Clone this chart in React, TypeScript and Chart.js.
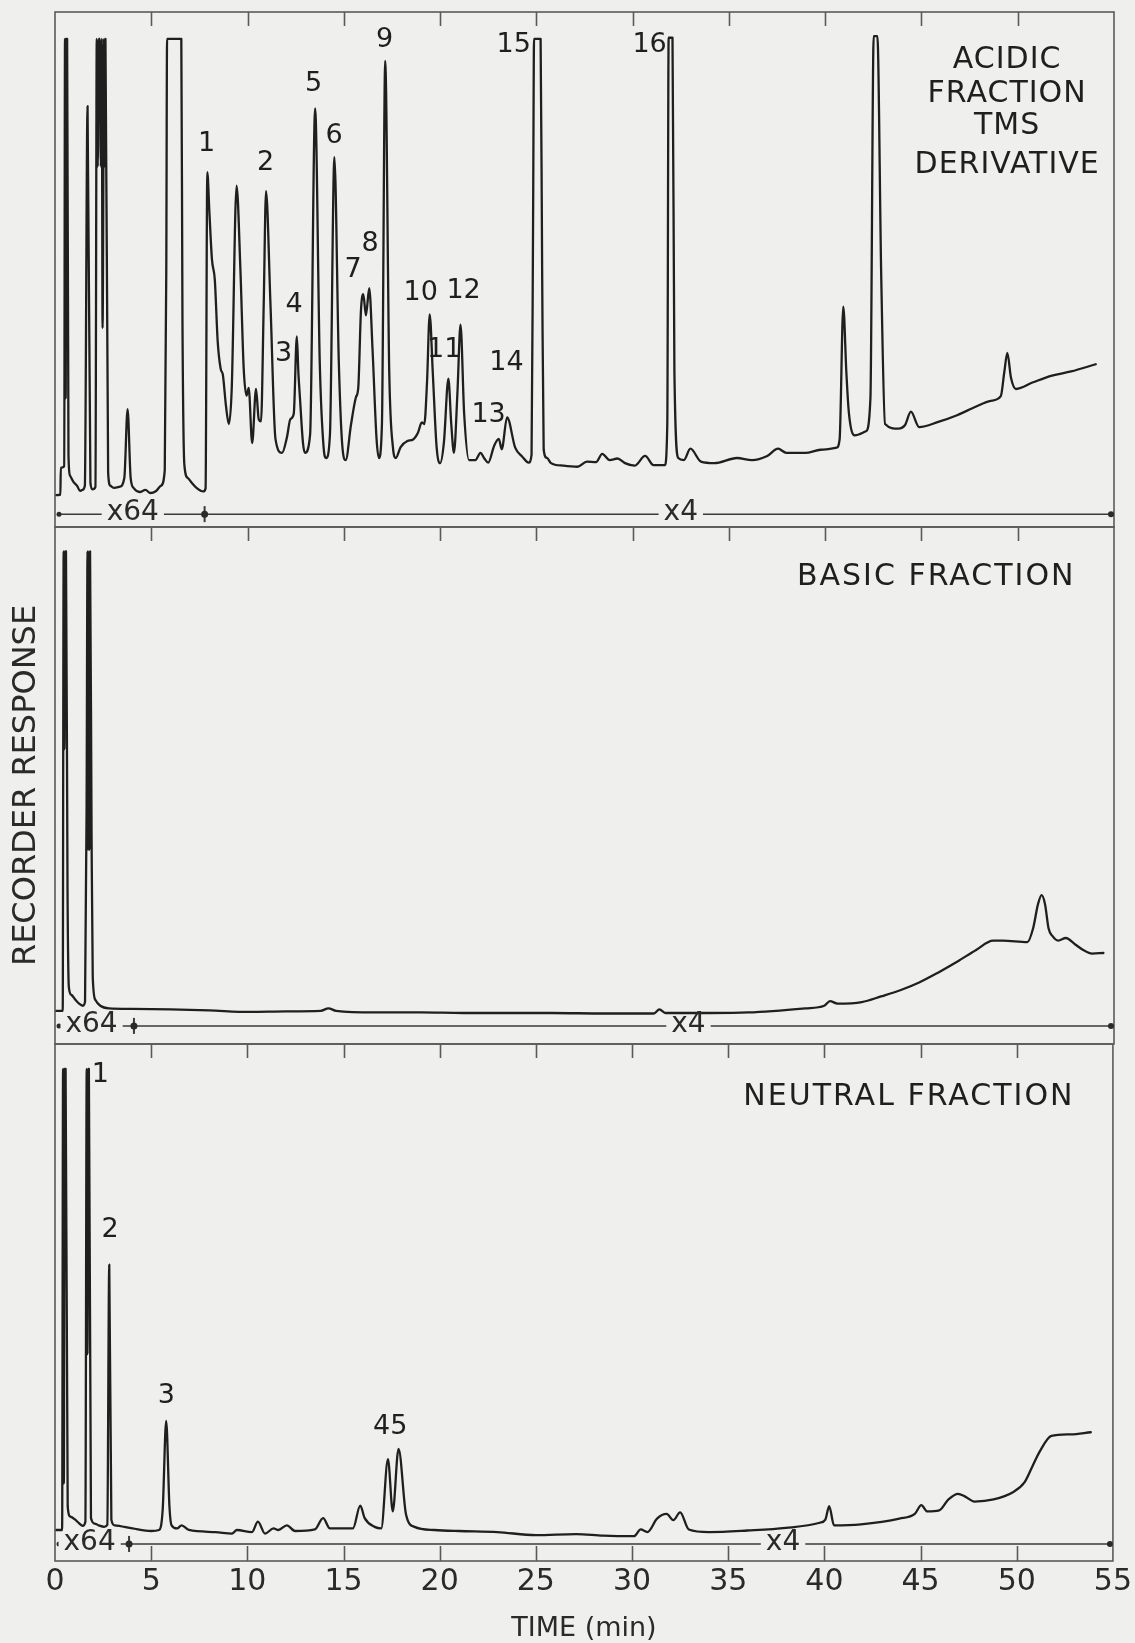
import React, { useEffect, useRef } from "react";
import { Chart, registerables } from "chart.js";

Chart.register(...registerables);

// ---------------- data (time in min, recorder response in % of full scale) ----------------
const TIME_MIN = 0;
const TIME_MAX = 55;
const TIME_STEP = 5;
const INNER_TICKS = [5, 10, 15, 20, 25, 30, 35, 40, 45, 50];
const X_TITLE = "TIME (min)";
const Y_TITLE = "RECORDER RESPONSE";

// Acidic fraction, TMS derivative
const acidicTime = [
  0.05, 0.28, 0.3, 0.48, 0.52, 0.555, 0.585, 0.63, 0.7, 0.78, 0.95, 1.15, 1.3, 1.42, 1.55, 1.69,
  1.84, 1.95, 2.1, 2.17, 2.22, 2.27, 2.33, 2.38, 2.43, 2.47, 2.55, 2.59, 2.62, 2.76, 2.88, 3.05,
  3.35, 3.6, 3.77, 3.93, 4.1, 4.4, 4.7, 4.95, 5.25, 5.5, 5.7, 5.78, 5.82, 6.56, 6.62, 6.72,
  6.9, 7.1, 7.35, 7.7, 7.82, 7.91, 8.02, 8.15, 8.3,
  8.45, 8.6, 8.72, 8.88, 9.03, 9.18, 9.43, 9.63, 9.8, 9.95, 10.06, 10.24, 10.44, 10.58, 10.7,
  10.84, 10.96, 11.19, 11.45, 11.79, 12.05, 12.22, 12.4, 12.56, 12.64, 12.72, 12.88, 12.98,
  13.25, 13.51, 13.75, 13.95, 14.08, 14.28, 14.51, 14.74, 14.94, 15.1, 15.37, 15.63, 15.75,
  15.89, 16.01, 16.15, 16.32, 16.49, 16.7, 16.82, 16.98, 17.15, 17.36, 17.55, 17.7, 17.95,
  18.3, 18.6, 18.85, 19.05, 19.18, 19.32, 19.46, 19.62, 19.82, 20.0, 20.2, 20.43, 20.58,
  20.72, 20.9, 21.06, 21.25, 21.5, 21.83, 22.1, 22.3, 22.5, 22.8, 23.05, 23.2, 23.48, 23.9,
  24.26, 24.6, 24.75, 24.83, 24.88, 25.22, 25.3, 25.38, 25.55, 25.76, 26.4, 27.14, 27.63,
  28.1, 28.42, 28.81, 29.21, 29.6, 30.1, 30.65, 31.09, 31.67, 31.8, 31.87, 32.07, 32.17,
  32.37, 32.66, 33.0, 33.55, 34.24, 35.42, 36.2, 36.99, 37.55, 37.98, 38.97, 39.76, 40.59,
  40.75, 40.94, 41.1, 41.23, 41.53, 42.12, 42.35, 42.52, 42.71, 42.91, 43.11, 43.8, 44.15,
  44.45, 44.88, 45.87, 46.85, 47.84, 48.6, 49.12, 49.3, 49.46, 49.65, 49.91, 50.8, 51.78,
  52.77, 54.05,
];
const acidicSignal = [
  6.2, 6.3, 11.5, 11.8, 94.8, 25, 94.8, 94.8, 14, 10, 8.8, 8.0, 7.0, 7.2, 8.0, 81.7,
  8.5, 7.3, 7.8, 94.8, 70, 94.8, 94.8, 70, 94.8, 38.6, 94.8, 70, 94.8, 10.5, 8.0, 7.6,
  7.8, 9.5, 22.9, 9.5, 7.5, 6.8, 7.2, 6.6, 7.0, 8.0, 11.0, 50, 94.8, 94.8, 40, 12,
  9.5, 8.6, 7.6, 6.9, 7.5, 68.9, 61, 52, 48,
  36, 30.8, 29.5, 23.5, 20.0, 27, 66.3, 49.9, 30.8, 25.5, 27, 16.3, 26.8, 20.9, 20.5,
  43.3, 65.2, 43.3, 17.1, 14.4, 17.5, 20.9, 22, 37.0, 30, 25.2, 16.3, 14.4,
  18, 81.3, 32, 15.5, 13.4, 18, 71.8, 32, 15, 13.0, 19.8, 25.2, 27,
  42, 45.2, 41.1, 46.4, 34.6, 17.1, 13.4, 20, 90.5, 30, 15.5, 13.4, 15.5,
  16.7, 17.0, 18.3, 20.3, 20.0, 28, 41.3, 30, 15.5, 12.4, 16.5, 28.8, 20,
  14.4, 26, 39.3, 22, 13.0, 13.0, 14.4, 13.3, 12.5, 15.7, 17.1, 15.1, 21.3, 15.4,
  13.7, 12.5, 14, 60, 94.8, 94.8, 50, 15, 13.4, 12.4, 11.9, 11.7, 12.7,
  12.6, 14.2, 13.0, 13.3, 12.4, 11.9, 13.8, 12.0, 12.0, 20, 95.0, 95.0, 30,
  13.4, 13.0, 15.2, 12.7, 12.4, 13.4, 13.0, 13.8, 15.2, 14.4, 14.4, 15.0, 15.4,
  17, 42.8, 30, 22.2, 17.8, 18.6, 25, 95.3, 95.3, 48.9, 20.0, 19.1, 19.8,
  22.4, 19.4, 20.4, 21.7, 23.4, 24.5, 25.4, 30, 33.8, 29, 26.8, 28.1, 29.4,
  30.2, 31.6,
];

// Basic fraction
const basicTime = [
  0.05, 0.4, 0.45, 0.49, 0.52, 0.57, 0.65, 0.72, 0.85, 1.05, 1.25, 1.45, 1.56, 1.64, 1.69,
  1.72, 1.76, 1.79, 1.82, 1.9, 1.96, 2.1, 2.35, 2.8, 4.0, 6.0, 8.0, 10.1, 12.0, 13.8, 14.2,
  14.6, 16.6, 19.0, 21.2, 23.5, 25.8, 28.5, 31.1, 31.39, 31.7, 34.0, 36.0, 38.97, 39.95,
  40.25, 40.64, 41.9, 42.9, 43.9, 44.88, 45.86, 46.85, 47.84, 48.72, 49.22, 50.5, 50.8,
  51.05, 51.24, 51.42, 51.6, 51.8, 52.1, 52.5, 52.97, 53.4, 53.86, 54.45,
];
const basicSignal = [
  6.4, 6.4, 95.3, 57, 95.3, 95.3, 30, 11, 9.5, 8.6, 7.8, 7.4, 8.2, 45, 95.3,
  37.5, 95.3, 37.5, 95.3, 40, 13, 8.5, 7.4, 6.9, 6.8, 6.7, 6.5, 6.2, 6.3, 6.4, 6.9,
  6.4, 6.1, 6.1, 6.0, 6.0, 6.0, 5.9, 5.9, 6.7, 6.0, 6.0, 6.1, 6.9, 7.4,
  8.3, 7.8, 8.1, 9.2, 10.4, 11.9, 13.8, 15.9, 18.2, 20.0, 20.0, 19.7, 22.4,
  27, 28.8, 27, 22.4, 20.9, 20.0, 20.5, 19.3, 18.2, 17.5, 17.6,
];

// Neutral fraction
const neutralTime = [
  0.03, 0.37, 0.42, 0.46, 0.5, 0.55, 0.66, 0.8, 1.05, 1.25, 1.44, 1.58, 1.65, 1.69, 1.72,
  1.76, 1.87, 2.1, 2.27, 2.56, 2.72, 2.82, 2.93, 3.1, 4.03, 5.0, 5.41, 5.6, 5.78, 5.95,
  6.06, 6.35, 6.58, 6.96, 8.34, 9.2, 9.46, 10.24, 10.55, 10.92, 11.36, 11.61, 12.05, 12.48,
  13.51, 13.94, 14.29, 15.49, 15.87, 16.1, 16.62, 16.96, 17.31, 17.56, 17.86, 18.25, 18.69,
  19.72, 21.0, 23.0, 25.0, 27.1, 28.5, 30.1, 30.45, 30.8, 31.3, 31.8, 32.15, 32.5, 32.95,
  34.0, 36.0, 38.0, 39.76, 40.05, 40.25, 40.5, 41.9, 43.9, 44.7, 45.04, 45.35, 45.97, 46.45,
  46.95, 47.3, 47.8, 48.8, 49.8, 50.4, 50.8, 51.2, 51.8, 52.8, 53.85,
];
const neutralSignal = [
  6.0, 6.0, 95.2, 15, 95.2, 95.2, 10.5, 8.6, 8.0, 7.3, 6.8, 7.6, 95.2, 40, 95.2,
  95.2, 8.3, 7.2, 6.9, 6.6, 7.0, 57.3, 8.0, 6.9, 6.3, 5.8, 6.0, 10, 27.1, 10.5,
  6.9, 6.3, 6.9, 6.0, 5.6, 5.3, 6.0, 5.6, 7.6, 5.3, 6.3, 6.0, 6.9, 5.8,
  6.1, 8.3, 6.3, 6.3, 10.7, 8.3, 6.6, 6.3, 19.7, 9.6, 21.7, 9.0, 6.6,
  6.0, 5.8, 5.6, 5.0, 5.2, 4.9, 4.8, 6.1, 5.6, 8.2, 9.1, 7.9, 9.4, 6.1,
  5.6, 5.9, 6.4, 7.4, 8.0, 10.6, 6.9, 7.1, 8.2, 9.1, 10.8, 9.6, 9.8, 11.9,
  13.0, 12.5, 11.5, 11.9, 13.3, 15.2, 18.2, 21.2, 24.2, 24.5, 24.9,
];

// peak numbers (text, time of label, height of label)
const acidicPeakText = ["1", "2", "3", "4", "5", "6", "7", "8", "9", "10", "11", "12", "13", "14", "15", "16"];
const acidicPeakTime = [7.87, 10.94, 11.87, 12.42, 13.43, 14.5, 15.48, 16.37, 17.12, 18.99, 20.21, 21.22, 22.52, 23.45, 23.82, 30.88];
const acidicPeakLevel = [74.3, 70.6, 33.5, 43.1, 86.0, 75.9, 49.9, 54.9, 94.6, 45.5, 34.4, 45.8, 21.7, 31.8, 93.6, 93.6];

const basicPeakText: string[] = [];
const basicPeakTime: number[] = [];
const basicPeakLevel: number[] = [];

const neutralPeakText = ["1", "2", "3", "45"];
const neutralPeakTime = [2.36, 2.87, 5.79, 17.43];
const neutralPeakLevel = [94.1, 64.0, 32.0, 26.0];

// panel titles
const acidicTitle = ["ACIDIC", "FRACTION", "TMS", "DERIVATIVE"];
const basicTitle = ["BASIC FRACTION"];
const neutralTitle = ["NEUTRAL FRACTION"];

// attenuation bars: [x64 label time, switch time, x4 label time, bar level]
const attenuationText = ["x64", "x4"];
const acidicAttenuation = [4.04, 7.77, 32.5, 2.5];
const basicAttenuation = [1.9, 4.1, 32.9, 3.5];
const neutralAttenuation = [1.8, 3.85, 37.85, 3.3];

// ---------------- style ----------------
const FONT = '"DejaVu Sans", "Liberation Sans", sans-serif';
const INK = "#1f1f1f";
const FRAME = "#5a5a5a";
const PAPER = "#efefed";
const PAGE_W = 1135;
const PAGE_H = 1643;

type PanelSpec = {
  name: string;
  time: number[];
  signal: number[];
  peakText: string[];
  peakTime: number[];
  peakLevel: number[];
  title: string[];
  titleAnchorTime: number;
  titleLevels: number[];
  titleAlign: CanvasTextAlign;
  titleSpacing: number;
  attenuation: number[];
  canvasTop: number;
  canvasHeight: number;
  padTop: number;
  padBottom: number;
  showXAxis: boolean;
  showYTitle: boolean;
  bottomTicks: boolean;
};

const PANELS: PanelSpec[] = [
  {
    name: "acidic",
    time: acidicTime,
    signal: acidicSignal,
    peakText: acidicPeakText,
    peakTime: acidicPeakTime,
    peakLevel: acidicPeakLevel,
    title: acidicTitle,
    titleAnchorTime: 49.45,
    titleLevels: [90.7, 84.1, 77.8, 70.3],
    titleAlign: "center",
    titleSpacing: 1,
    attenuation: acidicAttenuation,
    canvasTop: 0,
    canvasHeight: 540,
    padTop: 12,
    padBottom: 13,
    showXAxis: false,
    showYTitle: false,
    bottomTicks: false,
  },
  {
    name: "basic",
    time: basicTime,
    signal: basicSignal,
    peakText: basicPeakText,
    peakTime: basicPeakTime,
    peakLevel: basicPeakLevel,
    title: basicTitle,
    titleAnchorTime: 53.0,
    titleLevels: [90.2],
    titleAlign: "right",
    titleSpacing: 2,
    attenuation: basicAttenuation,
    canvasTop: 520,
    canvasHeight: 530,
    padTop: 7,
    padBottom: 6,
    showXAxis: false,
    showYTitle: true,
    bottomTicks: false,
  },
  {
    name: "neutral",
    time: neutralTime,
    signal: neutralSignal,
    peakText: neutralPeakText,
    peakTime: neutralPeakTime,
    peakLevel: neutralPeakLevel,
    title: neutralTitle,
    titleAnchorTime: 53.0,
    titleLevels: [89.8],
    titleAlign: "right",
    titleSpacing: 2,
    attenuation: neutralAttenuation,
    canvasTop: 1037,
    canvasHeight: 605,
    padTop: 7,
    padBottom: 0,
    showXAxis: true,
    showYTitle: false,
    bottomTicks: true,
  },
];

function makeDecor(spec: PanelSpec) {
  return {
    id: "decor_" + spec.name,
    afterDatasetsDraw(chart: any) {
      const { ctx, chartArea: a } = chart;
      const xs = chart.scales.x;
      const ys = chart.scales.y;
      ctx.save();

      // frame
      ctx.strokeStyle = FRAME;
      ctx.lineWidth = 1.6;
      ctx.strokeRect(a.left, a.top, a.right - a.left, a.bottom - a.top);

      // inward tick marks
      ctx.beginPath();
      for (const t of INNER_TICKS) {
        const px = Math.round(xs.getPixelForValue(t)) + 0.5;
        ctx.moveTo(px, a.top);
        ctx.lineTo(px, a.top + 14);
        if (spec.bottomTicks) {
          ctx.moveTo(px, a.bottom);
          ctx.lineTo(px, a.bottom - 15);
        }
      }
      ctx.stroke();

      // attenuation bar
      const [x64At, switchAt, x4At, level] = spec.attenuation;
      const by = ys.getPixelForValue(level);
      const x0 = xs.getPixelForValue(TIME_MIN);
      const x1 = xs.getPixelForValue(TIME_MAX);
      ctx.strokeStyle = "#3a3a3a";
      ctx.lineWidth = 1.5;
      ctx.beginPath();
      ctx.moveTo(x0 + 2, by);
      ctx.lineTo(x1 - 2, by);
      ctx.stroke();
      ctx.fillStyle = "#2a2a2a";
      // left end dot
      ctx.beginPath();
      ctx.arc(x0 + 4, by, 2.5, 0, Math.PI * 2);
      ctx.fill();
      // right end dot
      ctx.beginPath();
      ctx.arc(x1 - 3, by, 3, 0, Math.PI * 2);
      ctx.fill();
      // switch marker
      const sx = xs.getPixelForValue(switchAt);
      ctx.lineWidth = 2;
      ctx.beginPath();
      ctx.moveTo(sx, by - 8);
      ctx.lineTo(sx, by + 8);
      ctx.stroke();
      ctx.beginPath();
      ctx.arc(sx, by, 3.5, 0, Math.PI * 2);
      ctx.fill();
      // attenuation labels
      ctx.font = `28px ${FONT}`;
      ctx.textAlign = "center";
      ctx.textBaseline = "middle";
      const labelAt = [x64At, x4At];
      attenuationText.forEach((txt, i) => {
        const cx = xs.getPixelForValue(labelAt[i]);
        const w = ctx.measureText(txt).width;
        ctx.fillStyle = PAPER;
        ctx.fillRect(cx - w / 2 - 5, by - 4, w + 10, 8);
        ctx.fillStyle = "#2a2a2a";
        ctx.fillText(txt, cx, by - 1);
      });

      // peak numbers
      ctx.fillStyle = INK;
      ctx.font = `27px ${FONT}`;
      ctx.textAlign = "center";
      ctx.textBaseline = "middle";
      spec.peakText.forEach((txt, i) => {
        ctx.fillText(txt, xs.getPixelForValue(spec.peakTime[i]), ys.getPixelForValue(spec.peakLevel[i]));
      });

      // panel title
      ctx.font = `30px ${FONT}`;
      (ctx as any).letterSpacing = spec.titleSpacing + "px";
      ctx.textAlign = spec.titleAlign;
      ctx.textBaseline = "middle";
      spec.title.forEach((txt, i) => {
        ctx.fillText(txt, xs.getPixelForValue(spec.titleAnchorTime), ys.getPixelForValue(spec.titleLevels[i]));
      });
      ctx.restore();
    },
  };
}

function Panel({ spec }: { spec: PanelSpec }) {
  const ref = useRef<HTMLCanvasElement | null>(null);
  useEffect(() => {
    const canvas = ref.current;
    if (!canvas) return;
    const points = spec.time.map((t, i) => ({ x: t, y: spec.signal[i] }));
    const chart = new Chart(canvas, {
      type: "line",
      data: {
        datasets: [
          {
            data: points,
            borderColor: INK,
            borderWidth: 2.3,
            pointRadius: 0,
            cubicInterpolationMode: "monotone",
            fill: false,
            borderJoinStyle: "round",
            borderCapStyle: "round",
          } as any,
        ],
      },
      options: {
        animation: false,
        responsive: false,
        maintainAspectRatio: false,
        devicePixelRatio: 1,
        events: [],
        layout: {
          padding: {
            top: spec.padTop,
            bottom: spec.padBottom,
            left: spec.showYTitle ? 0 : 55,
            right: 21,
          },
        },
        plugins: {
          legend: { display: false },
          tooltip: { enabled: false },
          title: { display: false },
        },
        scales: {
          x: {
            type: "linear",
            min: TIME_MIN,
            max: TIME_MAX,
            display: spec.showXAxis,
            afterFit: spec.showXAxis
              ? (scale: any) => {
                  scale.height = 81;
                }
              : undefined,
            grid: { display: false, drawTicks: false },
            border: { display: false },
            ticks: {
              stepSize: TIME_STEP,
              color: "#2a2a2a",
              padding: 3,
              font: { family: FONT, size: 30 },
              maxRotation: 0,
              autoSkip: false,
            },
            title: {
              display: true,
              text: X_TITLE,
              color: "#2a2a2a",
              font: { family: FONT, size: 27, lineHeight: 1 },
              padding: { top: 0, bottom: 0 },
            },
          },
          y: {
            type: "linear",
            min: 0,
            max: 100,
            display: spec.showYTitle,
            afterFit: spec.showYTitle
              ? (scale: any) => {
                  scale.width = 55;
                }
              : undefined,
            grid: { display: false, drawTicks: false },
            border: { display: false },
            ticks: { display: false },
            title: {
              display: true,
              text: Y_TITLE,
              color: "#2a2a2a",
              font: { family: FONT, size: 32 },
              padding: { top: 7, bottom: 0 },
            },
          },
        },
      } as any,
      plugins: [makeDecor(spec)],
    });
    return () => chart.destroy();
  }, [spec]);
  return (
    <canvas
      ref={ref}
      width={PAGE_W}
      height={spec.canvasHeight}
      style={{ position: "absolute", left: 0, top: spec.canvasTop, width: PAGE_W, height: spec.canvasHeight }}
    />
  );
}

export default function App() {
  return (
    <div
      style={{
        position: "absolute",
        left: 0,
        top: 0,
        width: PAGE_W,
        height: PAGE_H,
        background: PAPER,
        overflow: "hidden",
      }}
    >
      {PANELS.map((p) => (
        <Panel key={p.name} spec={p} />
      ))}
    </div>
  );
}
